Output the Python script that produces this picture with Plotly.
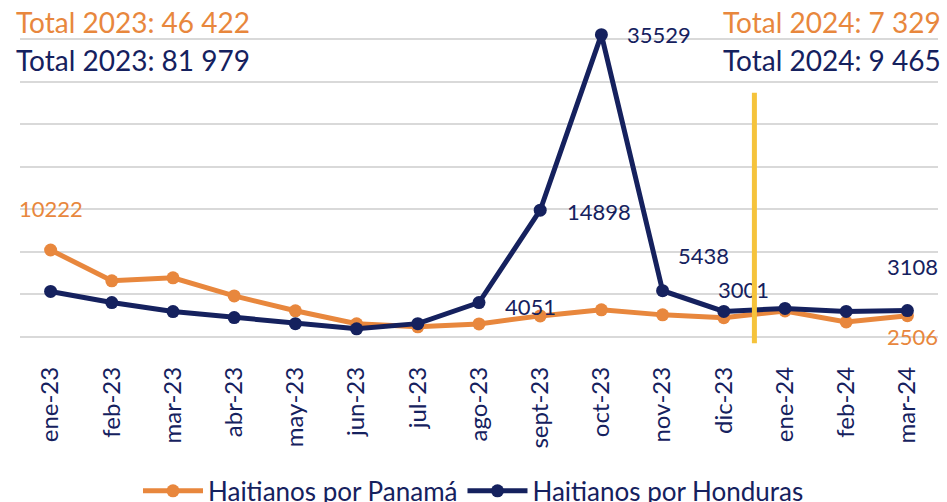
import plotly.graph_objects as go

months = ["ene-23", "feb-23", "mar-23", "abr-23", "may-23", "jun-23", "jul-23",
          "ago-23", "sept-23", "oct-23", "nov-23", "dic-23", "ene-24", "feb-24", "mar-24"]
panama = [10222, 6600, 6950, 4830, 3080, 1550, 1190, 1540, 2480, 3190, 2600, 2260, 3063, 1760, 2506]
honduras = [5350, 4050, 2990, 2280, 1570, 960, 1570, 4051, 14898, 35529, 5438, 3001, 3357, 3000, 3108]

ORANGE = "#E8873D"
NAVY = "#15215E"
GOLD = "#F5C33B"
FONT = "Lato"

fig = go.Figure()
fig.add_trace(go.Scatter(x=months, y=panama, name="Haitianos por Panamá", mode="lines+markers",
                         line=dict(color=ORANGE, width=5), marker=dict(size=13, color=ORANGE)))
fig.add_trace(go.Scatter(x=months, y=honduras, name="Haitianos por Honduras", mode="lines+markers",
                         line=dict(color=NAVY, width=5), marker=dict(size=13, color=NAVY)))

annotations = []

# value labels: (series, month index, colour, anchor, xshift, yshift)
labels = [
    (panama, 0, ORANGE, "center", 0, 42),
    (panama, 14, ORANGE, "center", 5, -21),
    (honduras, 7, NAVY, "left", 24, -4),
    (honduras, 8, NAVY, "left", 25, -1),
    (honduras, 9, NAVY, "left", 24, 0),
    (honduras, 10, NAVY, "left", 13, 35),
    (honduras, 11, NAVY, "left", -8, 22),
    (honduras, 14, NAVY, "center", 5, 44),
]
for series, i, col, anchor, dx, dy in labels:
    annotations.append(dict(x=months[i], y=series[i], xref="x", yref="y", text=str(series[i]),
                            showarrow=False, xanchor=anchor, yanchor="middle", xshift=dx, yshift=dy,
                            font=dict(family=FONT, size=22, color=col)))

# yearly totals (paper coordinates of the plot area)
totals = [
    ("Total 2023: 46 422", ORANGE, -0.0065, 0.935, "left"),
    ("Total 2023: 81 979", NAVY, -0.0065, 0.822, "left"),
    ("Total 2024: 7 329", ORANGE, 1.0054, 0.935, "right"),
    ("Total 2024: 9 465", NAVY, 1.0054, 0.822, "right"),
]
for txt, col, x, y, anchor in totals:
    annotations.append(dict(x=x, y=y, xref="paper", yref="paper", text=txt, showarrow=False,
                            xanchor=anchor, yanchor="middle", font=dict(family=FONT, size=28, color=col)))

# divider between 2023 and 2024, drawn last so it sits over the labels
annotations.append(dict(x=11.5, y=28700, xref="x", yref="y", ax=11.5, ay=-1800, axref="x", ayref="y",
                        text=" ", showarrow=True, arrowhead=0, arrowwidth=5, arrowcolor=GOLD,
                        standoff=0, startstandoff=0))

fig.update_layout(
    width=947, height=502,
    margin=dict(l=20, r=9, t=0, b=165, autoexpand=False),
    plot_bgcolor="white", paper_bgcolor="white",
    showlegend=True,
    legend=dict(orientation="h", x=0.5, xref="container", xanchor="center",
                y=0.022, yref="container", yanchor="middle",
                font=dict(family=FONT, size=26, color=NAVY), itemwidth=60),
    annotations=annotations,
    font=dict(family=FONT, color=NAVY),
)
fig.update_xaxes(type="category", range=[-0.5, 14.5], showgrid=False, tickangle=-90,
                 tickfont=dict(family=FONT, size=24, color=NAVY), ticklabelstandoff=24,
                 showline=False, zeroline=False)
fig.update_yaxes(range=[0, 39600], dtick=5000, showgrid=True, gridcolor="#D9D9D9", gridwidth=1.5,
                 showticklabels=False, zeroline=True, zerolinecolor="#D9D9D9", zerolinewidth=1.5)

fig.write_html("out.html")
